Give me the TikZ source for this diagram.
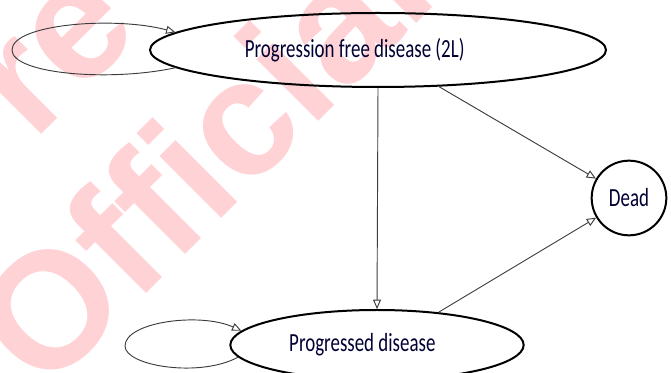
\documentclass[tikz,border=0pt]{standalone}
\usepackage{fontspec}
\setmainfont{Carlito}
\newfontfamily\markfont{Liberation Sans}
\usetikzlibrary{arrows.meta,shapes.geometric}
\definecolor{markpink}{RGB}{255,210,214}
\definecolor{linegray}{RGB}{60,60,60}
\newcommand\tall[1]{\scalebox{1}[1.38]{#1}}

\begin{document}
\begin{tikzpicture}[x=0.75pt,y=-0.75pt,
	state/.style={draw=black, line width=1.5pt, ellipse, inner sep=0pt, font=\fontsize{14.2}{16}\selectfont, text=black!80!blue},
	trans/.style={draw=linegray, line width=0.7pt, -{Triangle[open, length=7pt, width=6pt]}},
	watermark/.style={text=markpink, font=\markfont\bfseries\fontsize{124}{124}\selectfont, inner sep=0pt, rotate=45}]
			%%%%% START %%%%%
			\useasboundingbox (0,0) rectangle (671,373);
			\clip (0,0) rectangle (671,373);
			
			\node[watermark, anchor=base west] (markb) at (44,396) {Official};
			\node[watermark, anchor=base west] (marka) at (33,143) {re};
			
			\node[state, minimum width=342pt, minimum height=55.5pt] (pfd) at (378,50) {\tall{Progression free disease (2L)}\kern35pt};
			\node[state, minimum width=220pt, minimum height=52.5pt] (pd) at (377,345) {\tall{Progressed disease}\kern22pt};
			\node[state, circle, minimum size=56pt] (dead) at (629,198) {\tall{Dead}};
			
			\coordinate (loopa) at (12,50);
			\coordinate (loopb) at (125,346);
			
			\draw[trans] (pfd.185) .. controls (110,82) and (12,74) .. (loopa) .. controls (12,24) and (115,16) .. (pfd.175.5);
			\draw[trans] (pd.185.5) .. controls (200,378) and (125,366) .. (loopb) .. controls (125,322) and (200,312) .. (pd.174);
			
			\draw[trans] (pfd.south) -- (pd.north);
			\draw[trans] (pfd.-31) -- (dead);
			\draw[trans] (pd.28) -- (dead);
			%%%%% END %%%%%
\end{tikzpicture}
\end{document}
